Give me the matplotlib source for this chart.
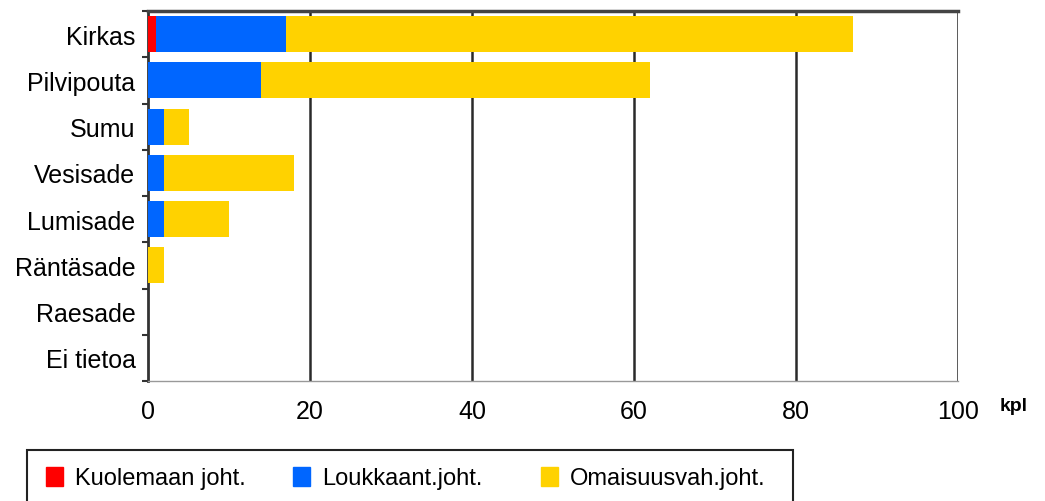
import numpy as np
import matplotlib.pyplot as plt
from matplotlib.patches import Rectangle

plt.rcParams['font.family'] = ['Liberation Sans', 'DejaVu Sans']

categories = ['Kirkas', 'Pilvipouta', 'Sumu', 'Vesisade', 'Lumisade',
              'Räntäsade', 'Raesade', 'Ei tietoa']
kuolema = np.array([1, 0, 0, 0, 0, 0, 0, 0])
loukkaant = np.array([16, 14, 2, 2, 2, 0, 0, 0])
omaisuus = np.array([70, 48, 3, 16, 8, 2, 0, 0])

series = ['Kuolemaan joht.', 'Loukkaant.joht.', 'Omaisuusvah.joht.']
colors = ['#ff0000', '#0066ff', '#ffd200']

fig = plt.figure(figsize=(10.45, 5.02), dpi=100)
ax = fig.add_axes([148 / 1045, 1 - 382 / 502, 810 / 1045, 370 / 502])

y = np.arange(len(categories))
ax.barh(y, kuolema, height=0.78, color=colors[0], zorder=3)
ax.barh(y, loukkaant, left=kuolema, height=0.78, color=colors[1], zorder=3)
ax.barh(y, omaisuus, left=kuolema + loukkaant, height=0.78, color=colors[2], zorder=3)

ax.set_xlim(0, 100)
ax.set_ylim(len(categories) - 0.5, -0.5)
ax.set_xticks([0, 20, 40, 60, 80, 100])
ax.set_xticklabels(['0', '20', '40', '60', '80', '100'], fontsize=18)
ax.tick_params(axis='x', length=0, pad=13)
ax.set_yticks(y)
ax.set_yticklabels(categories, fontsize=18)
ax.tick_params(axis='y', length=0, pad=9)
ax.set_yticks(np.arange(len(categories) + 1) - 0.5, minor=True)
ax.tick_params(axis='y', which='minor', length=4, width=1.5, color='#333333')

for v in [20, 40, 60, 80, 100]:
    ax.axvline(v, color='#2a2a2a', lw=1.8, zorder=2)

ax.spines['top'].set_color('#444444')
ax.spines['top'].set_linewidth(2.5)
ax.spines['left'].set_color('#333333')
ax.spines['left'].set_linewidth(2)
ax.spines['bottom'].set_color('#999999')
ax.spines['bottom'].set_linewidth(1)
ax.spines['right'].set_visible(False)

fig.text(1000 / 1045, 1 - 407 / 502, 'kpl', fontsize=14, fontweight='bold',
         va='center', ha='left')

# legend box
fig.patches.append(Rectangle((27 / 1045, -0.05), (793 - 27) / 1045,
                             (502 - 451) / 502 + 0.05, transform=fig.transFigure,
                             fill=False, edgecolor='#222222', lw=1.5))
xs = [46, 293, 541]
for x0, lab, c in zip(xs, series, colors):
    fig.patches.append(Rectangle((x0 / 1045, 1 - 487 / 502), 17 / 1045, 19 / 502,
                                 transform=fig.transFigure, color=c))
    fig.text((x0 + 29) / 1045, 1 - 479 / 502, lab, fontsize=17, va='center', ha='left')

fig.savefig('out.png', dpi=100)
